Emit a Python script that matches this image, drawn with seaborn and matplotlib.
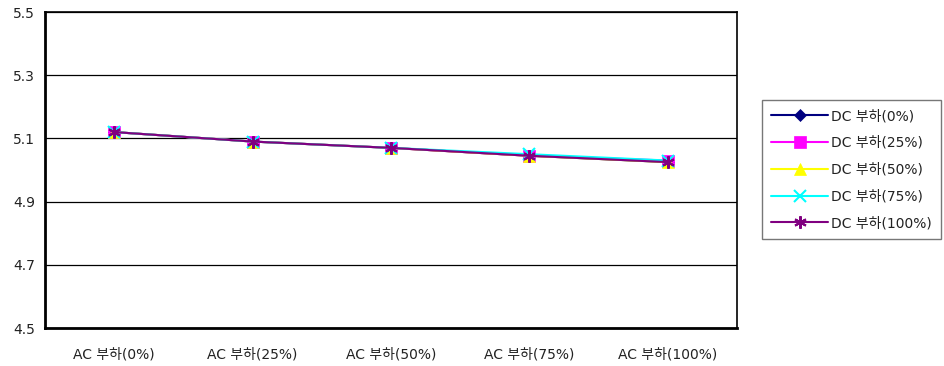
import matplotlib
matplotlib.use("Agg")
import matplotlib.pyplot as plt
import seaborn as sns
import pandas as pd

categories = ["AC 부하(0%)", "AC 부하(25%)", "AC 부하(50%)", "AC 부하(75%)", "AC 부하(100%)"]
series_names = ["DC 부하(0%)", "DC 부하(25%)", "DC 부하(50%)", "DC 부하(75%)", "DC 부하(100%)"]
dc0 = [5.12, 5.09, 5.07, 5.045, 5.025]
dc25 = [5.12, 5.09, 5.07, 5.045, 5.03]
dc50 = [5.12, 5.09, 5.07, 5.045, 5.025]
dc75 = [5.12, 5.09, 5.07, 5.05, 5.03]
dc100 = [5.12, 5.09, 5.07, 5.045, 5.025]
y_ticks = [4.5, 4.7, 4.9, 5.1, 5.3, 5.5]

colors = ["#000080", "#FF00FF", "#FFFF00", "#00FFFF", "#800080"]
markers = ["D", "s", "^", "x", (6, 2, 0)]
msizes = [6, 8, 8, 8, 9]

sns.set_style("white")
plt.rcParams["font.family"] = ["DejaVu Sans", "Noto Sans CJK KR"]

rows = []
for name, vals in zip(series_names, [dc0, dc25, dc50, dc75, dc100]):
    for i, v in enumerate(vals):
        rows.append({"x": i, "cat": categories[i], "series": name, "value": v})
df = pd.DataFrame(rows)

fig = plt.figure(figsize=(9.44, 3.66), dpi=100)
ax = fig.add_axes([45 / 944, 1 - 328 / 366, (737 - 45) / 944, (328 - 12) / 366])

for name, c, m, ms in zip(series_names, colors, markers, msizes):
    sub = df[df["series"] == name]
    sns.lineplot(data=sub, x="x", y="value", ax=ax, color=c, marker=m,
                 markersize=ms, linewidth=1.5, label=name,
                 markeredgecolor=c, markeredgewidth=1.5 if m in ("x", (6, 2, 0)) else 0.5)

ax.set_xlim(-0.5, 4.5)
ax.set_ylim(4.5, 5.5)
ax.set_yticks(y_ticks)
ax.set_yticklabels([f"{t:.1f}" for t in y_ticks], fontsize=10, color="#222222")
ax.yaxis.grid(True, color="black", linewidth=0.9)
ax.set_axisbelow(True)
ax.tick_params(axis="y", length=0, pad=7)

ax.set_xticks([0.5, 1.5, 2.5, 3.5])
ax.set_xticklabels([])
ax.tick_params(axis="x", which="major", direction="in", length=5, color="black", width=0.8)
ax.set_xticks(range(len(categories)), minor=True)
ax.set_xticklabels(categories, minor=True, fontsize=10, color="#222222")
ax.tick_params(axis="x", which="minor", length=0, pad=14)
ax.set_xlabel("")
ax.set_ylabel("")

for side in ["left", "bottom"]:
    ax.spines[side].set_linewidth(2)
    ax.spines[side].set_color("black")
for side in ["top", "right"]:
    ax.spines[side].set_linewidth(1.2)
    ax.spines[side].set_color("black")

leg = ax.legend(loc="upper left", bbox_to_anchor=(762 / 944, 1 - 100 / 366),
                bbox_transform=fig.transFigure, fontsize=10, frameon=True,
                fancybox=False, edgecolor="#555555", handlelength=4.1,
                labelspacing=0.92, borderpad=0.65, handletextpad=0.2,
                borderaxespad=0)
leg.get_frame().set_linewidth(1.0)
for t in leg.get_texts():
    t.set_color("#222222")

fig.savefig("out.png", dpi=100)
